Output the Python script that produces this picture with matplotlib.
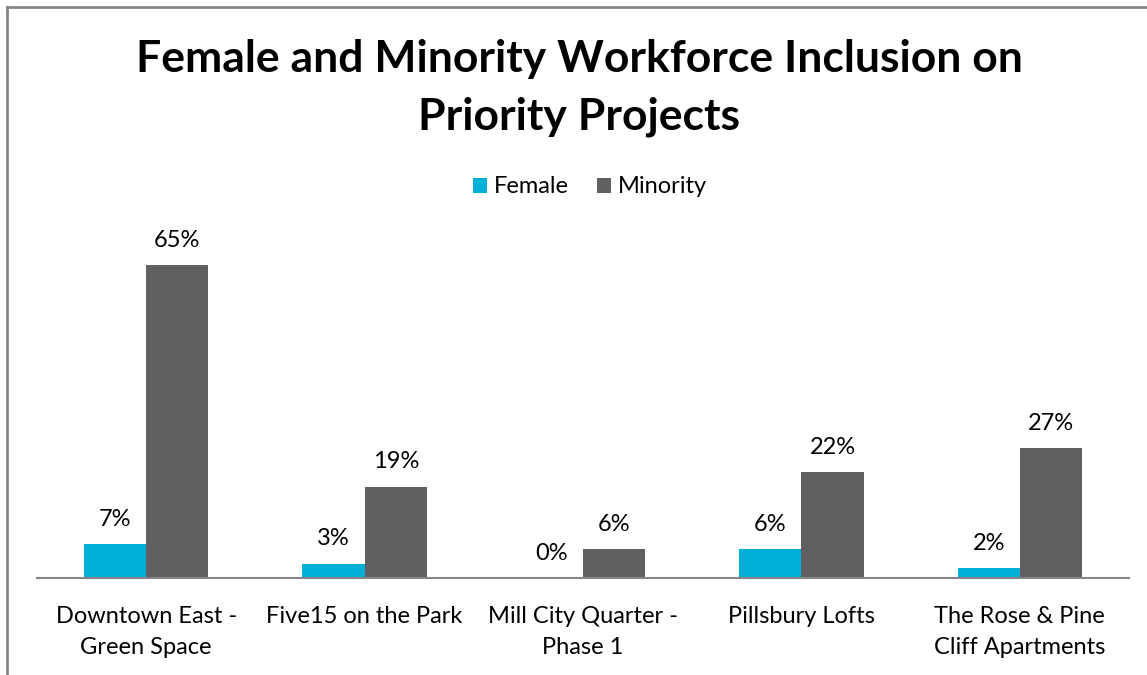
import numpy as np
import matplotlib.pyplot as plt
from matplotlib.lines import Line2D

categories = ['Downtown East -\nGreen Space', 'Five15 on the Park', 'Mill City Quarter -\nPhase 1',
              'Pillsbury Lofts', 'The Rose & Pine\nCliff Apartments']
female = [7, 3, 0, 6, 2]
minority = [65, 19, 6, 22, 27]

plt.rcParams['font.family'] = ['Lato', 'DejaVu Sans']

W, H = 1147, 675
fig = plt.figure(figsize=(W / 100, H / 100), dpi=100)
# axes in pixel coords: x 37..1129, y 215..578
ax = fig.add_axes([37 / W, 1 - 578 / H, (1129 - 37) / W, (578 - 215) / H])

x = np.arange(len(categories))
width = 0.285
b1 = ax.bar(x - width / 2, female, width, color='#00B0D6', label='Female')
b2 = ax.bar(x + width / 2, minority, width, color='#5F6062', label='Minority')

for rects, vals in ((b1, female), (b2, minority)):
    for r, v in zip(rects, vals):
        ax.text(r.get_x() + r.get_width() / 2, v + 3.0, '%d%%' % v,
                ha='center', va='bottom', fontsize=17)

ax.set_xlim(-0.5, len(categories) - 0.5)
ax.set_ylim(0, (578 - 215) / 4.815)
ax.set_yticks([])
ax.set_xticks(x)
ax.set_xticklabels(categories, fontsize=17, linespacing=1.6)
ax.tick_params(axis='x', length=0, pad=20)
for s in ('top', 'right', 'left'):
    ax.spines[s].set_visible(False)
ax.spines['bottom'].set_color('#868686')
ax.spines['bottom'].set_linewidth(1.5)

fig.text(0.505, 1 - 88 / H, 'Female and Minority Workforce Inclusion on\nPriority Projects',
         ha='center', va='center', fontsize=32, fontweight='bold', linespacing=1.55)

fig.legend(handles=[b1, b2], loc='center', bbox_to_anchor=(590 / W, 1 - 187 / H), ncol=2,
           frameon=False, fontsize=17, handlelength=0.6, handleheight=0.6,
           handletextpad=0.3, columnspacing=1.2)

# outer border (left and top visible)
fig.add_artist(Line2D([7 / W, 7 / W], [0, 1 - 7 / H], color='#868686', lw=2, transform=fig.transFigure))
fig.add_artist(Line2D([7 / W, 1], [1 - 7 / H, 1 - 7 / H], color='#868686', lw=2, transform=fig.transFigure))

fig.savefig('out.png', dpi=100)
